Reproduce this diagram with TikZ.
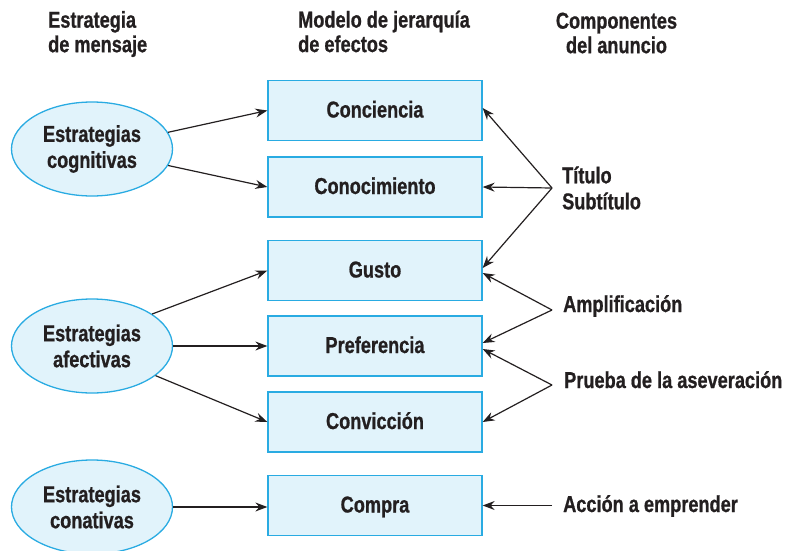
\documentclass[tikz,border=0pt]{standalone}
\usepackage{fontspec}
\setmainfont{Liberation Sans}[FakeStretch=0.79, BoldFeatures={FakeBold=0.8}]
\usetikzlibrary{arrows.meta,shapes.geometric}
\definecolor{boxfill}{HTML}{E1F3FB}
\definecolor{boxline}{HTML}{29ABE2}
\definecolor{ink}{HTML}{231F20}
\begin{document}
\begin{tikzpicture}[x=1pt,y=-1pt,
  every node/.style={font=\fontsize{23}{26}\selectfont\bfseries, text=ink},
  stage/.style={draw=boxline, fill=boxfill, line width=1.3pt, minimum width=214pt, minimum height=60pt, inner sep=0pt, text height=14pt, text depth=0pt},
  strat/.style={ellipse, draw=boxline, fill=boxfill, line width=1.3pt, minimum width=161pt, minimum height=94pt, inner sep=0pt, align=center},
  hdr/.style={align=left, inner sep=0pt, font=\fontsize{23}{24.5}\selectfont\bfseries},
  comp/.style={align=left, inner sep=0pt},
  arr/.style={-{Stealth[length=12pt,width=9pt,inset=4pt]}, draw=ink, line width=1.2pt}
]
\useasboundingbox (0,0) rectangle (792,551);

\node[stage] (c1) at (375,110.5) {Conciencia};
\node[stage] (c2) at (375,187) {Conocimiento};
\node[stage] (c3) at (375,270.5) {Gusto};
\node[stage] (c4) at (375,346) {Preferencia};
\node[stage] (c5) at (375,422) {Convicción};
\node[stage] (c6) at (375,505.5) {Compra};

\node[strat] (e1) at (92,149) {Estrategias\\cognitivas};
\node[strat] (e2) at (92,346) {Estrategias\\afectivas};
\node[strat] (e3) at (92,507) {Estrategias\\conativas};

\node[hdr, anchor=west] (h1) at (48,34) {Estrategia\\de mensaje};
\node[hdr, anchor=west] (h2) at (298,31.5) {Modelo de jerarquía\\de efectos};
\node[hdr, align=center] (h3) at (616.5,33) {Componentes\\del anuncio};

\node[comp, anchor=west] (t) at (562,188) {Título\\Subtítulo};
\node[comp, anchor=base west] (a) at (563,312) {Amplificación};
\node[comp, anchor=base west] (p) at (564,388) {Prueba de la aseveración};
\node[comp, anchor=base west] (ac) at (563,512) {Acción a emprender};

\coordinate (ht) at (552,188);
\coordinate (ha) at (552,310);
\coordinate (hp) at (552,385);
\coordinate (hac) at (552,505.5);

\draw[arr] (e1) -- (c1.west);
\draw[arr] (e1) -- (c2.west);
\draw[arr] (e2.28) -- (c3.west);
\draw[arr] (e2) -- (c4.west);
\draw[arr] (e2.-25) -- (c5.west);
\draw[arr] (e3.east) -- (e3.east -| c6.west);

\draw[arr] (ht) -- ([yshift=2.5pt]c1.east);
\draw[arr] (ht) -- (c2.east);
\draw[arr] (ht) -- ([yshift=2.5pt]c3.east);
\draw[arr] (ha) -- ([yshift=-2.5pt]c3.east);
\draw[arr] (ha) -- ([yshift=3pt]c4.east);
\draw[arr] (hp) -- ([yshift=-3pt]c4.east);
\draw[arr] (hp) -- (c5.east);
\draw[arr] (hac) -- (c6.east);
\end{tikzpicture}
\end{document}
